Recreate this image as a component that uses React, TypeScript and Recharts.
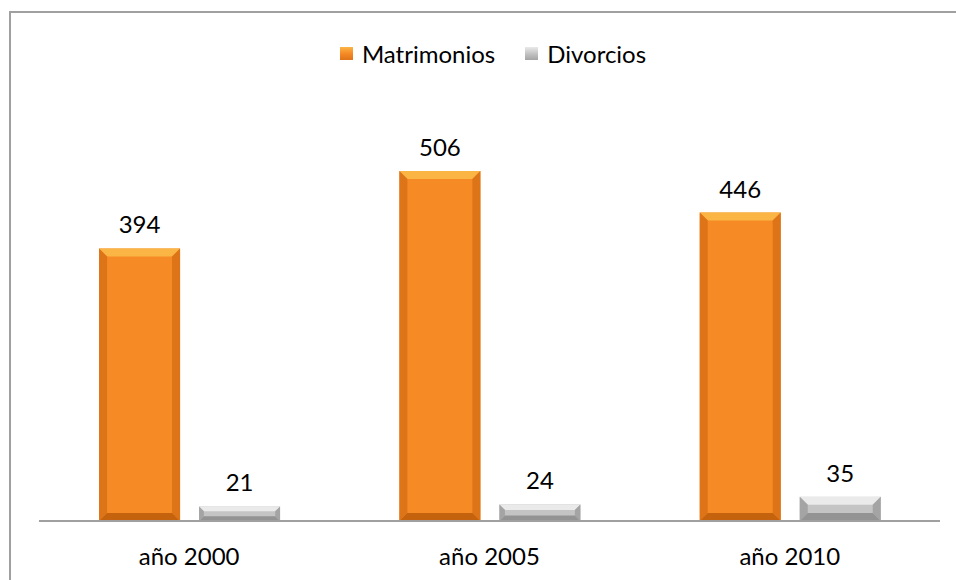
import React from 'react';
import { BarChart, Bar, XAxis, YAxis, LabelList } from 'recharts';

const categories = ['año 2000', 'año 2005', 'año 2010'];
const matrimonios = [394, 506, 446];
const divorcios = [21, 24, 35];

const data = categories.map((c, i) => ({ name: c, Matrimonios: matrimonios[i], Divorcios: divorcios[i] }));

const FONT = 'Lato, "Noto Sans", sans-serif';

const palettes: Record<string, { main: string; top: string; side: string; bottom: string }> = {
  Matrimonios: { main: '#F68A25', top: '#FBB545', side: '#DE7418', bottom: '#C4620E' },
  Divorcios: { main: '#C4C4C4', top: '#EAEAEA', side: '#A4A4A4', bottom: '#939393' },
};

const makeShape = (key: string) => (props: any) => {
  const { x, y, width, height } = props;
  if (!height || height <= 0) return null;
  const p = palettes[key];
  const b = Math.min(8, height / 3, width / 4);
  return (
    <g>
      <rect x={x} y={y} width={width} height={height} fill={p.main} />
      <polygon points={`${x},${y} ${x + width},${y} ${x + width - b},${y + b} ${x + b},${y + b}`} fill={p.top} />
      <polygon points={`${x},${y} ${x + b},${y + b} ${x + b},${y + height - b} ${x},${y + height}`} fill={p.side} />
      <polygon points={`${x + width},${y} ${x + width - b},${y + b} ${x + width - b},${y + height - b} ${x + width},${y + height}`} fill={p.side} />
      <polygon points={`${x},${y + height} ${x + b},${y + height - b} ${x + width - b},${y + height - b} ${x + width},${y + height}`} fill={p.bottom} />
    </g>
  );
};

const legendItems = [
  { label: 'Matrimonios', c: palettes.Matrimonios },
  { label: 'Divorcios', c: palettes.Divorcios },
];

export default function App() {
  return (
    <div style={{ position: 'absolute', left: 0, top: 0, width: 956, height: 580, background: '#fff', overflow: 'hidden' }}>
      <div style={{ position: 'absolute', left: 9, top: 11, width: 960, height: 600, border: '2px solid #A0A0A0', boxSizing: 'border-box' }} />
      <div style={{ position: 'absolute', left: 15, top: 38, width: 956, height: 30, display: 'flex', justifyContent: 'center', alignItems: 'center', fontFamily: FONT, fontSize: 24, color: '#000', zIndex: 2 }}>
        {legendItems.map((it, i) => (
          <div key={it.label} style={{ display: 'flex', alignItems: 'center', marginLeft: i === 0 ? 0 : 30 }}>
            <div style={{ width: 13, height: 13, background: `linear-gradient(${it.c.top}, ${it.c.main} 50%, ${it.c.side})`, marginRight: 9 }} />
            <span>{it.label}</span>
          </div>
        ))}
      </div>
      <BarChart
        width={956}
        height={580}
        data={data}
        margin={{ top: 106, right: 16, left: 39, bottom: 0 }}
        barCategoryGap="20%"
        barGap={19}
        style={{ position: 'absolute', left: 0, top: 0 }}
      >
        <XAxis
          dataKey="name"
          height={59}
          axisLine={{ stroke: '#A0A0A0', strokeWidth: 2 }}
          tickLine={false}
          tickSize={0}
          tickMargin={27}
          tick={{ fill: '#000', fontSize: 24, fontFamily: FONT }}
        />
        <YAxis hide domain={[0, 600]} />
        <Bar dataKey="Matrimonios" isAnimationActive={false} shape={makeShape('Matrimonios')}>
          <LabelList dataKey="Matrimonios" position="top" offset={15} style={{ fill: '#000', fontSize: 24, fontFamily: FONT }} />
        </Bar>
        <Bar dataKey="Divorcios" isAnimationActive={false} shape={makeShape('Divorcios')}>
          <LabelList dataKey="Divorcios" position="top" offset={15} style={{ fill: '#000', fontSize: 24, fontFamily: FONT }} />
        </Bar>
      </BarChart>
    </div>
  );
}
